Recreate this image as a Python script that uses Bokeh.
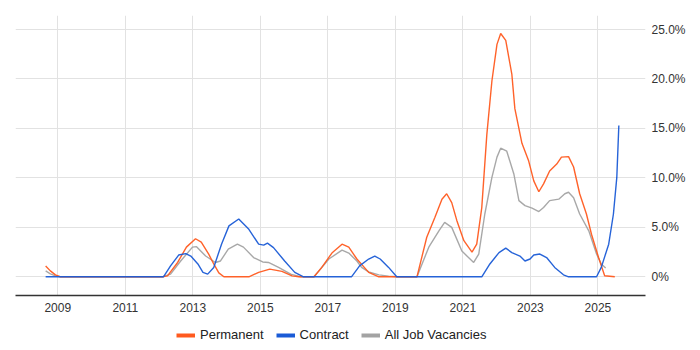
from bokeh.plotting import figure
from bokeh.models import FixedTicker, Range1d, Legend, LegendItem
from bokeh.layouts import column
from bokeh.embed import file_html
from bokeh.resources import INLINE

# ---- data (decimal year, % of vacancies) ----
perm_years = [2008.64, 2008.78, 2008.93, 2009.08, 2012.10, 2012.25, 2012.55, 2012.81, 2013.08, 2013.25,
              2013.47, 2013.62, 2013.77, 2013.92, 2014.66, 2014.95, 2015.28, 2015.64, 2015.94, 2016.14,
              2016.59, 2016.82, 2017.12, 2017.42, 2017.62, 2017.86, 2018.21, 2018.51, 2019.64, 2019.93,
              2020.17, 2020.38, 2020.52, 2020.67, 2020.82, 2021.03, 2021.27, 2021.41, 2021.56, 2021.71,
              2021.86, 2022.01, 2022.12, 2022.27, 2022.45, 2022.54, 2022.75, 2022.95, 2023.10, 2023.25,
              2023.39, 2023.57, 2023.78, 2023.92, 2024.13, 2024.28, 2024.46, 2024.66, 2024.81, 2025.02,
              2025.20, 2025.50]
perm_values = [1.1, 0.6, 0.2, 0.0, 0.0, 0.1, 1.45, 3.0, 3.85, 3.5,
               2.3, 1.3, 0.4, 0.0, 0.0, 0.45, 0.78, 0.55, 0.1, 0.0,
               0.0, 0.95, 2.4, 3.3, 3.0, 1.8, 0.45, 0.0, 0.0, 4.0,
               6.0, 7.85, 8.4, 7.5, 5.7, 3.65, 2.5, 3.3, 7.0, 14.4,
               19.8, 23.5, 24.6, 23.9, 20.5, 17.0, 13.5, 11.7, 9.7, 8.6,
               9.4, 10.7, 11.4, 12.1, 12.15, 11.1, 8.4, 6.35, 4.3, 1.95,
               0.1, 0.0]

contract_years = [2008.64, 2012.13, 2012.34, 2012.58, 2012.79, 2012.94, 2013.15, 2013.30, 2013.44, 2013.62,
                  2013.85, 2014.07, 2014.36, 2014.66, 2014.95, 2015.10, 2015.21, 2015.39, 2015.72, 2016.02,
                  2016.28, 2017.70, 2017.94, 2018.21, 2018.39, 2018.55, 2018.80, 2019.04, 2021.56, 2021.80,
                  2022.07, 2022.27, 2022.45, 2022.69, 2022.84, 2022.99, 2023.10, 2023.28, 2023.48, 2023.72,
                  2023.98, 2024.13, 2024.96, 2025.10, 2025.32, 2025.46, 2025.56, 2025.62]
contract_values = [0.0, 0.0, 1.1, 2.2, 2.35, 2.1, 1.3, 0.45, 0.27, 0.95,
                   3.3, 5.15, 5.85, 4.8, 3.3, 3.2, 3.4, 2.95, 1.6, 0.45,
                   0.0, 0.0, 1.1, 1.8, 2.1, 1.8, 0.95, 0.0, 0.0, 1.3,
                   2.45, 2.9, 2.45, 2.1, 1.6, 1.8, 2.2, 2.3, 1.95, 0.95,
                   0.2, 0.0, 0.0, 0.95, 3.3, 6.35, 10.05, 15.3]

all_years = [2008.64, 2008.78, 2008.93, 2009.08, 2012.10, 2012.34, 2012.64, 2012.99, 2013.11, 2013.38,
             2013.67, 2013.82, 2014.05, 2014.32, 2014.50, 2014.80, 2015.07, 2015.24, 2015.54, 2015.90,
             2016.20, 2016.59, 2016.70, 2017.03, 2017.42, 2017.62, 2017.86, 2018.00, 2018.21, 2018.51,
             2018.80, 2019.04, 2019.64, 2019.99, 2020.29, 2020.46, 2020.67, 2020.97, 2021.32, 2021.47,
             2021.65, 2021.86, 2022.01, 2022.12, 2022.30, 2022.51, 2022.66, 2022.84, 2023.05, 2023.25,
             2023.39, 2023.57, 2023.84, 2024.02, 2024.13, 2024.28, 2024.46, 2024.73, 2024.96, 2025.10,
             2025.23]
all_values = [0.6, 0.3, 0.1, 0.0, 0.0, 0.27, 1.6, 3.0, 3.05, 2.1,
              1.45, 1.6, 2.8, 3.3, 3.0, 1.95, 1.5, 1.45, 0.95, 0.27,
              0.0, 0.0, 0.45, 1.8, 2.7, 2.4, 1.6, 0.95, 0.5, 0.2,
              0.07, 0.0, 0.0, 3.0, 4.65, 5.5, 5.0, 2.6, 1.45, 2.3,
              6.35, 10.05, 12.1, 13.0, 12.7, 10.4, 7.7, 7.2, 6.95, 6.6,
              7.0, 7.7, 7.85, 8.4, 8.55, 8.0, 6.35, 4.65, 2.3, 1.3,
              0.9]

series_names = ["Permanent", "Contract", "All Job Vacancies"]
series_colors = ["#ff5a1f", "#1a5bd6", "#a3a3a3"]

x_ticks = [2009, 2011, 2013, 2015, 2017, 2019, 2021, 2023, 2025]
x_tick_labels = ["2009", "2011", "2013", "2015", "2017", "2019", "2021", "2023", "2025"]
y_ticks = [0, 5, 10, 15, 20, 25]
y_tick_labels = ["0%", "5.0%", "10.0%", "15.0%", "20.0%", "25.0%"]

FONT = "Liberation Sans"

p = figure(width=690, height=315, output_backend="svg", toolbar_location=None,
           x_range=Range1d(2007.747, 2026.41), y_range=Range1d(-1.89, 26.42),
           y_axis_location="right",
           min_border_left=15, min_border_top=15, min_border_right=45, min_border_bottom=20)
p.outline_line_color = None
p.background_fill_color = "white"
p.border_fill_color = "white"

# grids
p.xgrid.ticker = FixedTicker(ticks=x_ticks)
p.ygrid.ticker = FixedTicker(ticks=y_ticks)
p.xgrid.grid_line_color = "#e2e2e2"
p.ygrid.grid_line_color = "#e2e2e2"

# x axis
xa = p.xaxis[0]
xa.axis_label = None
xa.ticker = FixedTicker(ticks=x_ticks)
xa.major_label_overrides = {t: l for t, l in zip(x_ticks, x_tick_labels)}
xa.major_tick_out = 0
xa.major_tick_in = 0
xa.minor_tick_out = 0
xa.minor_tick_in = 0
xa.axis_line_color = "#333333"
xa.axis_line_width = 1.3
xa.major_label_standoff = 7
xa.major_label_text_font = FONT
xa.major_label_text_font_size = "12px"
xa.major_label_text_color = "#333333"

# y axis (right)
ya = p.yaxis[0]
ya.axis_label = None
ya.ticker = FixedTicker(ticks=y_ticks)
ya.major_label_overrides = {t: l for t, l in zip(y_ticks, y_tick_labels)}
ya.major_tick_out = 0
ya.major_tick_in = 0
ya.minor_tick_out = 0
ya.minor_tick_in = 0
ya.axis_line_color = None
ya.major_label_standoff = 6
ya.major_label_text_font = FONT
ya.major_label_text_font_size = "12px"
ya.major_label_text_color = "#333333"

# lines
data = [(perm_years, perm_values), (contract_years, contract_values), (all_years, all_values)]
order = [2, 0, 1]
for i in order:
    xs, ys = data[i]
    p.line(xs, ys, line_color=series_colors[i], line_width=1.4, line_alpha=0.95)

# legend strip below the chart
lg = figure(width=690, height=27, output_backend="svg", toolbar_location=None,
            x_range=Range1d(0, 1), y_range=Range1d(0, 1),
            min_border_left=0, min_border_right=0, min_border_top=0, min_border_bottom=0)
lg.axis.visible = False
lg.grid.visible = False
lg.outline_line_color = None
items = []
for i in range(3):
    r = lg.line(x=[0.0, 0.0], y=[-10.0, -10.0], line_color=series_colors[i], line_width=4)
    items.append(LegendItem(label=series_names[i], renderers=[r]))
legend = Legend(items=items, orientation="horizontal", location=(161, 0),
                label_text_font=FONT, label_text_font_size="13px", label_text_color="#222222",
                glyph_width=19, glyph_height=12, label_height=12, label_standoff=5, spacing=12,
                padding=0, margin=0, border_line_color=None, background_fill_alpha=0)
lg.add_layout(legend, "center")

layout = column(p, lg, spacing=0)
open("out.html", "w").write(file_html(layout, INLINE))
